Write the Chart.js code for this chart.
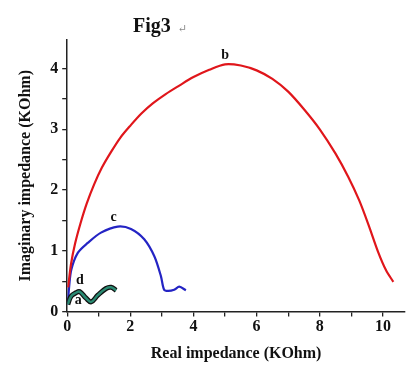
<!DOCTYPE html>
<html>
<head>
<meta charset="utf-8">
<script src="https://cdn.jsdelivr.net/npm/chart.js@4/dist/chart.umd.min.js"></script>
<style>
  html, body { margin: 0; padding: 0; background: #fff; }
  #wrap { width: 409px; height: 366px; }
</style>
</head>
<body>
<div id="wrap"><canvas id="nyquist"></canvas></div>
<script>
// Nyquist plots, Real vs Imaginary impedance (KOhm)
const xTicks = [0, 1, 2, 3, 4, 5, 6, 7, 8, 9, 10];
const yTicks = [0, 0.5, 1, 1.5, 2, 2.5, 3, 3.5, 4];

// curve b (red)
const bRe = [0.03, 0.12, 0.25, 0.42, 0.62, 0.85, 1.1, 1.38, 1.68, 2.0, 2.35, 2.72, 3.12, 3.55, 4.0, 4.5, 5.0, 5.5, 6.0, 6.5, 7.0, 7.5, 8.0, 8.5, 8.9, 9.25, 9.55, 9.85, 10.1, 10.33];
const bIm = [0.4, 0.78, 1.12, 1.45, 1.78, 2.09, 2.37, 2.62, 2.86, 3.06, 3.26, 3.43, 3.58, 3.72, 3.86, 3.98, 4.07, 4.05, 3.97, 3.83, 3.62, 3.33, 3.0, 2.6, 2.22, 1.83, 1.42, 0.98, 0.68, 0.49];

// curve c (blue)
const cRe = [0.02, 0.06, 0.13, 0.34, 0.65, 1.07, 1.6, 2.02, 2.44, 2.76, 2.97, 3.07, 3.2, 3.39, 3.55, 3.76];
const cIm = [0.12, 0.4, 0.69, 0.97, 1.13, 1.3, 1.4, 1.36, 1.19, 0.91, 0.58, 0.36, 0.34, 0.36, 0.41, 0.35];

// curve a / d (dark teal)
const aRe = [0.02, 0.12, 0.28, 0.39, 0.6, 0.76, 0.97, 1.23, 1.39, 1.55];
const aIm = [0.12, 0.25, 0.31, 0.33, 0.22, 0.16, 0.27, 0.38, 0.4, 0.35];

// curve labels
const labelText = ["b", "c", "d", "a"];
const labelX = [5.0, 1.47, 0.4, 0.35];
const labelY = [4.2, 1.53, 0.5, 0.16];

const toPoints = (xs, ys) => xs.map((x, i) => ({ x: x, y: ys[i] }));

const serif = "'Liberation Serif', 'DejaVu Serif', serif";

const curveLabels = {
    id: "curveLabels",
    afterDatasetsDraw(chart) {
        const ctx = chart.ctx;
        const xs = chart.scales.x, ys = chart.scales.y;
        ctx.save();
        ctx.fillStyle = "#111";
        ctx.font = "bold 14px " + serif;
        ctx.textAlign = "center";
        ctx.textBaseline = "bottom";
        labelText.forEach((t, i) => {
            ctx.fillText(t, xs.getPixelForValue(labelX[i]), ys.getPixelForValue(labelY[i]) + 6);
        });
        // title
        ctx.textAlign = "left";
        ctx.textBaseline = "alphabetic";
        ctx.font = "bold 20px " + serif;
        ctx.fillText("Fig3", 133, 32);
        ctx.fillStyle = "#888";
        ctx.font = "11px " + serif;
        ctx.fillText("\u21B5", 178, 32);
        ctx.restore();
    }
};

const axisStyle = (ticks, showEvery) => ({
    type: "linear",
    border: { display: true, color: "#222", width: 1.5 },
    grid: { display: true, drawOnChartArea: false, drawTicks: true, tickLength: 5, color: "#222", lineWidth: 1.3 },
    afterBuildTicks: (scale) => { scale.ticks = ticks.map(v => ({ value: v })); },
    ticks: {
        color: "#111",
        font: { family: serif, size: 16, weight: "bold" },
        padding: 4,
        autoSkip: false,
        maxRotation: 0,
        callback: (v) => (v % showEvery === 0 ? String(v) : "")
    }
});

const xAxis = axisStyle(xTicks, 2);
xAxis.min = 0;
xAxis.max = 10.7;
xAxis.ticks.padding = 1;
xAxis.title = { display: true, text: "Real impedance (KOhm)", color: "#111", font: { family: serif, size: 16, weight: "bold" }, padding: { top: 6, bottom: 0 } };

const yAxis = axisStyle(yTicks, 1);
yAxis.min = 0;
yAxis.max = 4.47;
yAxis.title = { display: true, text: "Imaginary impedance (KOhm)", color: "#111", font: { family: serif, size: 16, weight: "bold" }, padding: { top: 0, bottom: 11 } };

const config = {
    type: "scatter",
    data: {
        datasets: [
            {
                label: "b",
                data: toPoints(bRe, bIm),
                showLine: true,
                borderColor: "#e0161b",
                borderWidth: 2.2,
                pointRadius: 0,
                tension: 0.3,
                order: 2
            },
            {
                label: "c",
                data: toPoints(cRe, cIm),
                showLine: true,
                borderColor: "#2424c4",
                borderWidth: 2.2,
                pointRadius: 0,
                tension: 0.3,
                order: 2
            },
            {
                label: "a",
                data: toPoints(aRe, aIm),
                showLine: true,
                borderColor: "#111",
                borderWidth: 5,
                pointRadius: 0,
                tension: 0.4,
                order: 1
            },
            {
                label: "d",
                data: toPoints(aRe, aIm),
                showLine: true,
                borderColor: "#2a8a72",
                borderWidth: 2.5,
                pointRadius: 0,
                tension: 0.4,
                order: 0
            }
        ]
    },
    options: {
        responsive: true,
        maintainAspectRatio: false,
        animation: false,
        layout: { padding: { top: 40, left: 16, right: 4, bottom: 3 } },
        plugins: {
            legend: { display: false },
            tooltip: { enabled: false }
        },
        scales: { x: xAxis, y: yAxis }
    },
    plugins: [curveLabels]
};

var chart = new Chart(document.getElementById("nyquist"), config);
</script>
</body>
</html>
